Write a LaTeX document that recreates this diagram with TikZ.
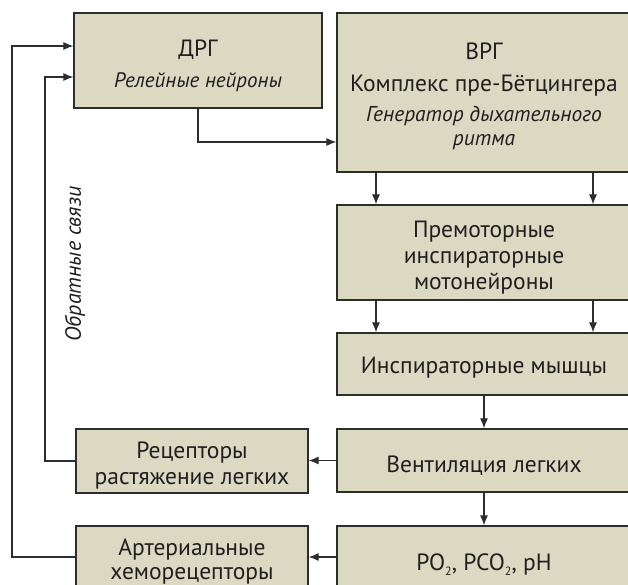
\documentclass[tikz,border=0pt]{standalone}
\usepackage{fontspec}
\setmainfont{PT Sans}
\usetikzlibrary{arrows.meta}
\definecolor{boxfill}{RGB}{220,217,195}
\definecolor{linec}{RGB}{45,45,45}
\tikzset{
  box/.style={draw=linec, line width=1.3pt, fill=boxfill, rectangle, inner sep=0pt},
  txt/.style={anchor=base, inner sep=0pt, text=black!88, font=\fontsize{23.5}{28}\selectfont},
  itx/.style={anchor=base, inner sep=0pt, text=black!88, font=\itshape\fontsize{21.5}{26}\selectfont},
  arr/.style={draw=linec, line width=1.1pt, -{Latex[length=10pt,width=8pt]}},
}
\begin{document}
\begin{tikzpicture}[x=1pt,y=-1pt]
\useasboundingbox (0,0) rectangle (628,585);
\clip (0,0) rectangle (628,585);
\fill[white] (0,0) rectangle (628,585);
% boxes
\node[box, minimum width=248pt, minimum height=95pt] (drg) at (198,60.5) {};
\node[box, minimum width=294pt, minimum height=159pt] (vrg) at (484,92.5) {};
\node[box, minimum width=294pt, minimum height=95pt] (pre) at (484,252.5) {};
\node[box, minimum width=294pt, minimum height=62pt] (mus) at (484,364) {};
\node[box, minimum width=294pt, minimum height=63pt] (ven) at (484,460.5) {};
\node[box, minimum width=294pt, minimum height=63pt] (gas) at (484,557.5) {};
\node[box, minimum width=232pt, minimum height=64pt] (rec) at (192,461) {};
\node[box, minimum width=232pt, minimum height=63pt] (art) at (192,557.5) {};
% texts
\node[txt] (drgA) at (198,57) {ДРГ};
\node[itx, font=\itshape\fontsize{21}{26}\selectfont] (drgB) at (198,88) {Релейные нейроны};
\node[txt] (vrgA) at (484,60) {ВРГ};
\node[txt] (vrgB) at (484,92) {Комплекс пре-Бётцингера};
\node[itx] (vrgC) at (484,122) {Генератор дыхательного};
\node[itx] (vrgD) at (484,146) {ритма};
\node[txt] (preA) at (484,237) {Премоторные};
\node[txt] (preB) at (484,263) {инспираторные};
\node[txt] (preC) at (484,289) {мотонейроны};
\node[txt] (musA) at (484,373) {Инспираторные мышцы};
\node[txt] (venA) at (484,472) {Вентиляция легких};
\node[txt] (gasA) at (484,570) {PO\raisebox{-5pt}{\fontsize{12}{12}\selectfont 2}, PCO\raisebox{-5pt}{\fontsize{12}{12}\selectfont 2}, pH};
\node[txt] (recA) at (192,458) {Рецепторы};
\node[txt] (recB) at (192,484) {растяжение легких};
\node[txt] (artA) at (192,555) {Артериальные};
\node[txt] (artB) at (192,579) {хеморецепторы};
% label
\node[rotate=90, inner sep=0pt, font=\itshape\fontsize{22}{24}\selectfont, text=black!88] (fb) at (75,264) {Обратные связи};
% coordinates
\coordinate (k1) at (198,142);
\coordinate (xa) at (376,0);
\coordinate (xb) at (593,0);
\coordinate (o1) at (12,46);
\coordinate (o2) at (12,557);
\coordinate (i1) at (45,77);
\coordinate (i2) at (45,461);
% connectors
\draw[arr] (drg.south -| k1) -- (k1) -- (vrg.west |- k1);
\draw[arr] (vrg.south -| xa) -- (pre.north -| xa);
\draw[arr] (vrg.south -| xb) -- (pre.north -| xb);
\draw[arr] (pre.south -| xa) -- (mus.north -| xa);
\draw[arr] (pre.south -| xb) -- (mus.north -| xb);
\draw[arr] (mus.south) -- (ven.north);
\draw[arr] (ven.south) -- (gas.north);
\draw[arr] (ven.west) -- (rec.east |- ven.west);
\draw[arr] (gas.west |- o2) -- (art.east |- o2);
\draw[arr] (rec.west |- i2) -- (i2) -- (i1) -- (drg.west |- i1);
\draw[arr] (art.west |- o2) -- (o2) -- (o1) -- (drg.west |- o1);
\end{tikzpicture}
\end{document}
